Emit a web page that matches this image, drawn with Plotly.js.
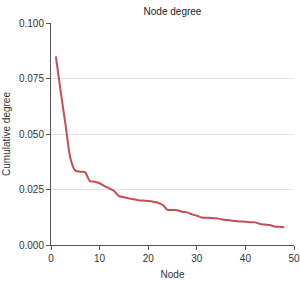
<!DOCTYPE html>
<html>
<head>
<meta charset="utf-8">
<script src="https://cdn.plot.ly/plotly-3.0.1.min.js"></script>
<style>html,body{margin:0;padding:0;background:#fff;}#chart{width:300px;height:281px;}</style>
</head>
<body>
<div id="chart"></div>
<script>
const nodes = [1,2,3,4,5,6,7,8,9,10,11,12,13,14,15,16,17,18,19,20,21,22,23,24,25,26,27,28,29,30,31,32,33,34,35,36,37,38,39,40,41,42,43,44,45,46,47,48];
const cumulativeDegree = [0.085,0.069,0.054,0.039,0.0335,0.033,0.0328,0.0288,0.0285,0.0278,0.0265,0.0255,0.0243,0.022,0.0215,0.021,0.0206,0.0202,0.0200,0.0198,0.0195,0.019,0.018,0.0158,0.0158,0.0157,0.015,0.0147,0.0138,0.0132,0.0124,0.0123,0.0122,0.012,0.0116,0.0113,0.011,0.0108,0.0106,0.0105,0.0103,0.0102,0.0095,0.0092,0.009,0.0083,0.0082,0.008];
const yTicks = [0, 0.025, 0.05, 0.075, 0.1];
const yTickLabels = ["0.000","0.025","0.050","0.075","0.100"];
const xTicks = [0,10,20,30,40,50];

const font = {family: '"Liberation Sans", Arial, sans-serif', size: 10, color: '#333'};

Plotly.newPlot('chart', [{
  x: nodes, y: cumulativeDegree, type: 'scatter', mode: 'lines',
  line: {color: '#c44e52', width: 2, shape: 'spline', smoothing: 0.8},
  hoverinfo: 'none'
}], {
  width: 300, height: 281,
  margin: {l: 51, r: 6, t: 23, b: 36},
  paper_bgcolor: '#fff', plot_bgcolor: '#fff',
  font: font,
  showlegend: false,
  title: {text: 'Node degree', font: {family: font.family, size: 10, color: '#222'}, x: 0.575, xanchor: 'center', y: 0.958, yanchor: 'middle'},
  xaxis: {
    range: [0, 50], tickvals: xTicks, showgrid: false, zeroline: false,
    showline: true, linecolor: '#555', linewidth: 1,
    ticks: 'outside', ticklen: 4, tickcolor: '#555',
    tickfont: {family: font.family, size: 10, color: '#333'},
    title: {text: 'Node', font: {family: font.family, size: 10, color: '#333'}, standoff: 7}
  },
  yaxis: {
    range: [0, 0.1], tickvals: yTicks, ticktext: yTickLabels, showgrid: true, gridcolor: '#e4e4e4', gridwidth: 1, zeroline: false,
    showline: true, linecolor: '#555', linewidth: 1,
    ticks: 'outside', ticklen: 4, tickcolor: '#555',
    tickfont: {family: font.family, size: 10, color: '#333'},
    title: {text: 'Cumulative degree', font: {family: font.family, size: 10, color: '#333'}, standoff: 6}
  }
}, {staticPlot: true, displayModeBar: false});
</script>
</body>
</html>
